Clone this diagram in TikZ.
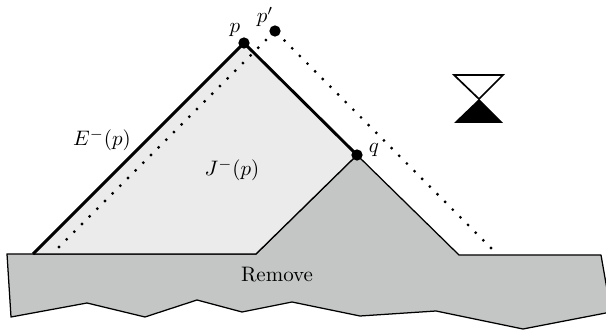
\documentclass[tikz,border=0pt]{standalone}
\definecolor{removegray}{RGB}{196,198,197}
\definecolor{pastgray}{RGB}{235,235,235}
\begin{document}
\begin{tikzpicture}[x=0.477pt,y=0.477pt,
    event/.style={circle,fill=black,inner sep=0pt,minimum size=5.4pt},
    dotline/.style={line width=1.5pt,line cap=round,dash pattern=on 0pt off 5.17pt},
    label/.style={inner sep=0pt}]
    \useasboundingbox (0,0) rectangle (606,331);

    % Removed strip with its broken lower edge.
    \draw[fill=removegray,line width=0.6pt,line join=round]
        (7,77) -- (256,77) -- (357,176) -- (459,76) -- (601,76) -- (611,19)
        -- (523,2) -- (436,20) -- (360,15) -- (292,29) -- (242,19)
        -- (197,31) -- (145,14) -- (87,28) -- (11,14) -- cycle;

    % Past of p.
    \fill[pastgray] (33,77) -- (244,288) -- (357,176) -- (256,77) -- cycle;
    \draw[line width=0.6pt] (33,77) -- (256,77) -- (357,176);

    \node[event] (p) at (244,288) {};
    \node[event] (q) at (357,176) {};
    \node[event] (pp) at (275,300) {};
    \coordinate (base) at (33,77);
    \coordinate (dotleft) at (59,84);
    \coordinate (dotright) at (491,83);

    \draw[line width=1.4pt] (base) -- (p.center) -- (q.center);
    \draw[dotline] (dotleft) -- (pp.center);
    \draw[dotline] (dotright) -- (pp.center);

    \node[label] (plabel) at (235,301) {$p$};
    \node[label] (pplabel) at (265,314) {$p'$};
    \node[label] (qlabel) at (374,181) {$q$};
    \node[label] (elabel) at (102,191) {$E^-(p)$};
    \node[label] (jlabel) at (232,161) {$J^-(p)$};
    \node[label] (removelabel) at (277,56) {Remove};

    % Hourglass.
    \draw[line width=0.8pt,line join=miter] (454,256) -- (503,256) -- (479,232) -- cycle;
    \fill[black] (454,208) -- (503,208) -- (479,232) -- cycle;
\end{tikzpicture}
\end{document}
